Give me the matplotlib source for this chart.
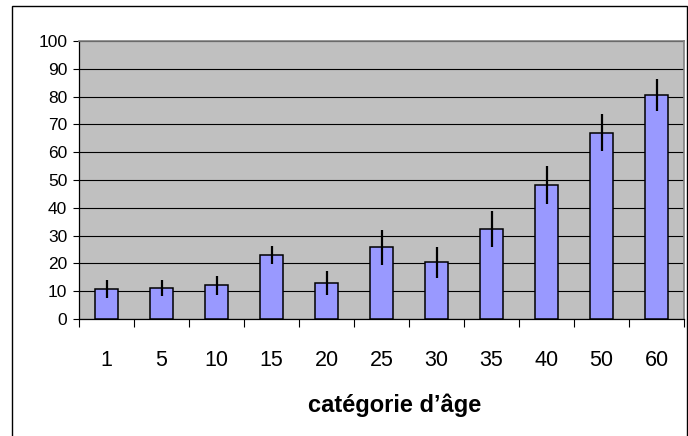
import numpy as np
import matplotlib.pyplot as plt
from matplotlib.patches import Rectangle

plt.rcParams['font.family'] = ['Liberation Sans', 'DejaVu Sans']

categories = ['1', '5', '10', '15', '20', '25', '30', '35', '40', '50', '60']
values = [10.7, 11.2, 12.2, 22.9, 12.9, 25.8, 20.4, 32.3, 48.2, 67.0, 80.5]
errors = [3.2, 3.0, 3.4, 3.2, 4.4, 6.2, 5.6, 6.4, 6.7, 6.6, 5.8]
yticks = [0, 10, 20, 30, 40, 50, 60, 70, 80, 90, 100]

fig = plt.figure(figsize=(6.88, 4.36), dpi=100)
W, H = 688, 436

# outer chart border (bottom edge falls outside the image)
fig.patches.append(Rectangle((12 / W, -0.05), (687 - 12) / W, (H - 6) / H + 0.05,
                             transform=fig.transFigure, fill=False,
                             edgecolor='black', linewidth=1.0))

ax = fig.add_axes([79 / W, (H - 319) / H, (684 - 79) / W, (319 - 41) / H])
ax.set_facecolor('#C0C0C0')

x = np.arange(len(categories))
ax.bar(x, values, width=0.41, color='#9999FF', edgecolor='black',
       linewidth=1.1, zorder=3)
ax.errorbar(x, values, yerr=errors, fmt='none', ecolor='black',
            elinewidth=1.6, capsize=0, zorder=4)

ax.set_xlim(-0.5, len(categories) - 0.5)
ax.set_ylim(0, 100)
ax.set_yticks(yticks)
ax.set_yticklabels([str(v) for v in yticks], fontsize=12.5)
ax.yaxis.grid(True, color='black', linewidth=0.8, zorder=1)
ax.set_axisbelow(True)

ax.set_xticks(x)
ax.set_xticklabels(categories, fontsize=15.5)
ax.set_xticks(np.arange(-0.5, len(categories)), minor=True)
ax.tick_params(axis='x', which='major', length=0, pad=22.5)
ax.tick_params(axis='x', which='minor', length=5.5, width=0.8, direction='out')
ax.tick_params(axis='y', length=4.5, width=0.8, direction='out', pad=4)

for s in ['left', 'bottom']:
    ax.spines[s].set_color('black')
    ax.spines[s].set_linewidth(0.9)
for s in ['top', 'right']:
    ax.spines[s].set_color('#808080')
    ax.spines[s].set_linewidth(1.2)

ax.set_xlabel('catégorie d’âge', fontsize=17, fontweight='bold')
ax.xaxis.set_label_coords((394.5 - 79) / 605, (319 - 393) / 278)

fig.savefig('out.png', dpi=100)
